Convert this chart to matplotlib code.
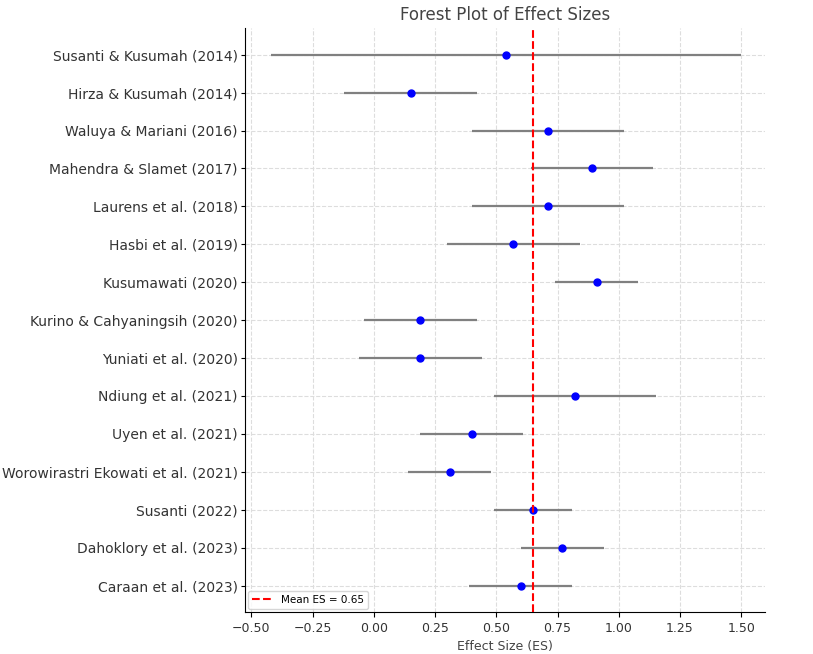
import matplotlib
matplotlib.use('Agg')

import numpy as np
import matplotlib.pyplot as plt

studies = ["Susanti & Kusumah (2014)", "Hirza & Kusumah (2014)", "Waluya & Mariani (2016)",
           "Mahendra & Slamet (2017)", "Laurens et al. (2018)", "Hasbi et al. (2019)",
           "Kusumawati (2020)", "Kurino & Cahyaningsih (2020)", "Yuniati et al. (2020)",
           "Ndiung et al. (2021)", "Uyen et al. (2021)", "Worowirastri Ekowati et al. (2021)",
           "Susanti (2022)", "Dahoklory et al. (2023)", "Caraan et al. (2023)"]
effect_sizes = [0.54, 0.15, 0.71, 0.89, 0.71, 0.57, 0.91, 0.19, 0.19, 0.82, 0.40, 0.31, 0.65, 0.77, 0.60]
ci_lower = [-0.42, -0.12, 0.40, 0.64, 0.40, 0.30, 0.74, -0.04, -0.06, 0.49, 0.19, 0.14, 0.49, 0.60, 0.39]
ci_upper = [1.50, 0.42, 1.02, 1.14, 1.02, 0.84, 1.08, 0.42, 0.44, 1.15, 0.61, 0.48, 0.81, 0.94, 0.81]
mean_es = 0.65

es = np.array(effect_sizes)
err = [es - np.array(ci_lower), np.array(ci_upper) - es]
y = np.arange(len(studies))

fig, ax = plt.subplots(figsize=(8.13, 6.54), dpi=100)
fig.subplots_adjust(left=0.301, right=0.941, top=0.957, bottom=0.064)

ax.errorbar(es, y, xerr=err, fmt='o', color='blue', ecolor='gray',
            elinewidth=1.6, markersize=5, capsize=0, zorder=3)
ax.axvline(mean_es, color='red', linestyle='--', linewidth=1.5,
           label='Mean ES = %.2f' % mean_es, zorder=4)

ax.set_yticks(y)
ax.set_yticklabels(studies, fontsize=10, color='#333333')
ax.set_xlim(-0.527, 1.597)
ax.set_ylim(14.7, -0.7)
ax.set_xticks(np.arange(-0.5, 1.51, 0.25))
ax.tick_params(axis='x', labelsize=9, labelcolor='#333333')
ax.tick_params(axis='y', length=3, pad=2)
ax.set_xlabel("Effect Size (ES)", fontsize=9, color='#444444')
ax.set_title("Forest Plot of Effect Sizes", fontsize=12, color='#444444')
ax.grid(True, linestyle='--', color='#dddddd', linewidth=0.8)
ax.set_axisbelow(True)
for s in ['top', 'right']:
    ax.spines[s].set_visible(False)
ax.legend(loc='lower left', fontsize=7.5, borderaxespad=0.3)

plt.savefig("out.png")
